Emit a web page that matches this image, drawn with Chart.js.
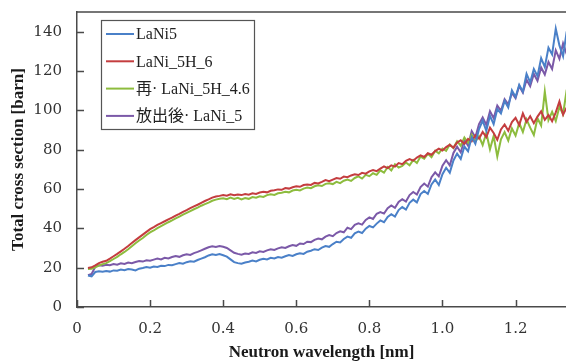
<!DOCTYPE html>
<html>
<head>
<meta charset="utf-8">
<script src="https://cdn.jsdelivr.net/npm/chart.js@4.4.0/dist/chart.umd.min.js"></script>
<style>
  html, body { margin: 0; padding: 0; background: #fff; }
  #wrap { width: 566px; height: 363px; position: relative; }
</style>
</head>
<body>
<div id="wrap"><canvas id="xs"></canvas></div>
<script>
// wavelength grid: 0.03 .. 1.34 nm, step 0.01
var wavelengths = [];
for (var i = 0; i <= 131; i++) wavelengths.push(+(0.03 + i * 0.01).toFixed(2));

var seriesNames = ["LaNi5", "LaNi_5H_6", "再· LaNi_5H_4.6", "放出後· LaNi_5"];
var seriesColors = ["#4a80c8", "#c43d3f", "#8dbc3e", "#7b59a8"];

var lani5 = [
  16.0, 15.6, 17.8, 18.2, 17.9, 18.3, 18.0, 18.6, 18.4, 19.0,
  18.7, 19.3, 19.1, 18.6, 19.5, 19.8, 20.3, 20.0, 20.6, 20.4,
  21.0, 20.8, 21.4, 21.2, 21.8, 22.4, 22.0, 22.8, 23.3, 23.0,
  23.9, 24.6, 25.3, 26.2, 26.8, 26.4, 26.9, 26.3, 25.6, 24.2,
  22.8, 22.3, 22.0, 22.6, 23.0, 23.6, 23.2, 24.0, 24.5, 24.2,
  25.0, 24.7, 25.4, 25.1, 25.8, 26.4, 26.0, 26.8, 27.3, 27.0,
  28.1, 28.6, 29.4, 29.0, 30.2, 31.0, 30.6, 32.0, 33.2, 32.8,
  34.6, 35.8, 35.2, 37.5, 38.3, 37.6, 39.8, 41.2, 40.5, 42.4,
  44.0, 43.1, 45.8, 47.2, 46.0, 49.3, 50.8, 49.5, 53.0, 54.6,
  53.2, 57.4, 59.0, 57.5, 62.3, 64.8, 62.0, 67.5, 70.8, 68.2,
  74.5, 78.0, 75.3, 81.6, 79.2, 86.4, 83.0, 90.5, 94.8, 89.6,
  97.2, 93.0, 100.6, 98.4, 104.8, 101.5, 110.2, 106.8, 113.0, 109.5,
  118.6, 114.2, 121.0, 117.4, 126.5, 122.0, 131.8, 128.4, 141.5, 133.0,
  127.5, 140.2
];
var laniH6 = [
  19.8, 20.2, 21.2, 22.3, 23.0, 23.5, 24.6, 25.8, 27.0, 28.3,
  29.6, 31.0, 32.5, 34.0, 35.4, 36.8, 38.2, 39.6, 40.6, 41.7,
  42.7, 43.6, 44.6, 45.4, 46.5, 47.4, 48.4, 49.3, 50.3, 51.2,
  52.0, 53.0, 53.9, 54.7, 55.6, 56.2, 56.5, 56.9, 56.6, 57.3,
  56.8, 57.2, 56.9, 57.4, 57.1, 57.8, 57.5, 58.2, 58.6, 58.3,
  59.1, 59.4, 59.8, 59.6, 60.5, 60.2, 60.9, 61.4, 61.1, 62.0,
  62.3, 62.1, 63.1, 62.8, 63.6, 64.5, 64.0, 64.8, 65.6, 65.2,
  66.3, 66.0, 66.9, 67.5, 67.1, 68.2, 67.8, 69.0, 69.6, 69.1,
  70.4, 71.5, 70.6, 72.0, 71.4, 73.2, 72.6, 74.3, 75.2, 74.4,
  76.0, 77.1, 76.3, 78.2, 77.4, 79.3, 80.5, 79.6, 81.3, 82.5,
  81.0, 83.6, 84.8, 82.9, 85.5, 84.2, 87.3, 85.6, 89.0, 86.4,
  91.2, 88.5, 85.0, 90.3, 92.8, 89.6, 94.0, 96.2, 92.5, 98.4,
  94.1, 97.0, 93.5, 96.8, 99.5, 95.2, 97.6, 94.4, 99.0, 104.5,
  97.8, 101.5
];
var laniH46 = [
  19.3, 19.5, 20.2, 21.0, 21.8, 22.3, 23.3, 24.4, 25.5, 26.8,
  28.0, 29.4, 30.9, 32.4, 33.8, 35.1, 36.6, 37.9, 38.9, 40.1,
  41.1, 42.1, 43.1, 44.0, 45.1, 46.0, 47.0, 47.9, 48.8, 49.7,
  50.5, 51.5, 52.3, 53.1, 54.0, 54.6, 55.0, 55.3, 54.8, 55.6,
  54.9, 55.5, 54.7, 55.4, 55.0, 55.9, 55.6, 56.3, 56.0, 56.9,
  57.3, 57.0, 57.8, 58.1, 58.6, 58.3, 59.2, 59.6, 59.3, 60.2,
  60.8, 60.4, 61.4, 61.9, 61.5, 62.6, 62.9, 62.5, 63.6, 63.0,
  64.2, 64.8, 64.1, 65.6, 66.4, 65.3, 67.2, 66.5, 68.0, 67.2,
  69.5, 68.3, 71.2, 69.4, 72.6, 70.9, 71.8, 73.5, 72.0, 74.8,
  73.2, 76.5, 75.4, 77.9, 76.2, 79.5, 78.1, 80.6, 79.4, 82.6,
  80.8, 84.3, 82.0, 86.2, 83.5, 87.6, 84.1, 86.8, 82.4, 88.5,
  80.2, 86.9, 76.5, 85.3, 88.9, 84.6, 90.8, 87.2, 93.5, 89.0,
  95.4, 91.2, 87.5, 96.0, 92.3, 109.5, 95.0, 99.2, 94.6, 101.8,
  98.0, 110.5
];
var laniRel = [
  16.2, 16.8, 20.5, 21.2, 21.0, 21.5, 21.2, 21.8, 21.5, 22.2,
  21.9, 22.6, 22.3, 22.9, 23.4, 23.1, 23.8, 23.5, 24.1, 24.6,
  24.2, 25.0, 24.7, 25.4, 25.9, 25.5, 26.3, 26.8, 26.5, 27.4,
  28.0, 28.8, 29.6, 30.4, 30.9, 30.5, 31.0, 30.6, 30.0, 28.8,
  27.6, 27.0, 26.6, 27.2, 27.0, 27.8, 27.5, 28.3, 28.0, 28.8,
  29.4, 29.0, 29.8, 30.4, 30.0, 30.9, 31.5, 31.1, 32.3, 32.0,
  33.2, 33.0, 34.1, 34.8, 34.4, 35.8, 36.6, 36.0, 37.6, 38.5,
  38.0, 40.3, 39.6, 41.8, 42.5, 41.9, 44.3, 45.6, 44.8, 47.4,
  48.3, 47.5, 50.2, 51.6, 50.4, 53.4, 54.8, 53.6, 56.9, 58.5,
  57.2, 61.0, 62.8, 61.2, 66.0, 68.5, 66.4, 71.8, 74.6, 72.0,
  78.3, 81.5, 78.6, 85.2, 82.0, 89.4, 86.3, 93.0, 96.4, 92.6,
  99.5, 96.0, 102.4, 99.8, 105.6, 103.0, 108.8, 106.2, 112.4, 109.0,
  115.6, 112.3, 118.5, 115.0, 121.8, 118.2, 124.6, 121.0, 130.5, 126.2,
  134.0, 128.5
];

var yTicks = [0, 20, 40, 60, 80, 100, 120, 140];
var xTicks = [0, 0.2, 0.4, 0.6, 0.8, 1, 1.2];

function toPoints(vals) {
  return vals.map(function (v, k) { return { x: wavelengths[k], y: v }; });
}

var allSeries = [lani5, laniH6, laniH46, laniRel];
var datasets = allSeries.map(function (vals, k) {
  return {
    label: seriesNames[k],
    data: toPoints(vals),
    borderColor: seriesColors[k],
    backgroundColor: seriesColors[k],
    borderWidth: 2,
    pointRadius: 0,
    showLine: true,
    tension: 0
  };
});

var axisColor = "#4a4a4a";

// inward tick marks, top frame line and the boxed legend
var decor = {
  id: "decor",
  afterDraw: function (chart) {
    var c = chart.ctx, a = chart.chartArea;
    var xs = chart.scales.x, ys = chart.scales.y;
    c.save();
    c.strokeStyle = axisColor;
    c.lineWidth = 1.5;
    c.beginPath();
    c.moveTo(a.left, a.top);
    c.lineTo(a.right, a.top);
    xTicks.forEach(function (t) {
      var px = Math.round(xs.getPixelForValue(t)) + 0.5;
      c.moveTo(px, a.bottom);
      c.lineTo(px, a.bottom - 7);
    });
    yTicks.forEach(function (t) {
      var py = Math.round(ys.getPixelForValue(t)) + 0.5;
      c.moveTo(a.left, py);
      c.lineTo(a.left + 7, py);
    });
    c.stroke();

    // legend
    c.fillStyle = "#fff";
    c.fillRect(101, 20, 153, 109);
    c.lineWidth = 1.2;
    c.strokeStyle = "#555";
    c.strokeRect(101.5, 20.5, 153, 109);
    c.font = "16px 'Liberation Serif', 'Noto Sans CJK JP', serif";
    c.textBaseline = "middle";
    chart.data.datasets.forEach(function (ds, k) {
      var y = 34 + k * 27.3;
      c.strokeStyle = ds.borderColor;
      c.lineWidth = 2;
      c.beginPath();
      c.moveTo(106, y);
      c.lineTo(134, y);
      c.stroke();
      c.fillStyle = "#222";
      c.fillText(ds.label, 136, y + 1);
    });
    c.restore();
  }
};

new Chart(document.getElementById("xs"), {
  type: "scatter",
  data: { datasets: datasets },
  options: {
    responsive: true,
    maintainAspectRatio: false,
    animation: false,
    layout: { padding: { top: 12, right: 0, left: 0, bottom: 0 } },
    plugins: { legend: { display: false }, tooltip: { enabled: false } },
    scales: {
      x: {
        type: "linear",
        min: 0,
        max: 1.338,
        afterFit: function (s) { s.height = 56; s.paddingLeft = 0; s.paddingRight = 0; },
        afterBuildTicks: function (s) { s.ticks = xTicks.map(function (v) { return { value: v }; }); },
        grid: { display: false },
        border: { display: true, color: axisColor, width: 1.5 },
        ticks: {
          padding: 5,
          color: "#333",
          font: { family: "'DejaVu Serif', serif", size: 15 },
          maxRotation: 0
        },
        title: {
          display: true,
          text: "Neutron wavelength [nm]",
          color: "#1a1a1a",
          padding: 0,
          font: { family: "'Liberation Serif', serif", size: 17, weight: "bold" }
        }
      },
      y: {
        min: 0,
        max: 150,
        afterFit: function (s) { s.width = 77; s.paddingTop = 0; s.paddingBottom = 0; },
        afterBuildTicks: function (s) { s.ticks = yTicks.map(function (v) { return { value: v }; }); },
        grid: { display: false },
        border: { display: true, color: axisColor, width: 1.5 },
        ticks: {
          padding: 7,
          color: "#333",
          font: { family: "'DejaVu Serif', serif", size: 15 }
        },
        title: {
          display: true,
          text: "Total cross section [barn]",
          color: "#1a1a1a",
          padding: { top: 8, bottom: 0 },
          font: { family: "'Liberation Serif', serif", size: 17, weight: "bold" }
        }
      }
    }
  },
  plugins: [decor]
});
</script>
</body>
</html>
